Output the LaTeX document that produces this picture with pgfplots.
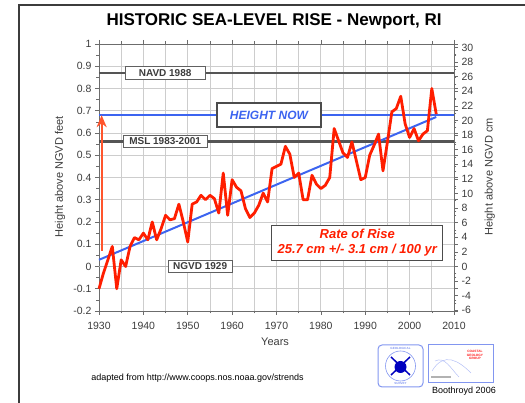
\documentclass[border=0pt]{standalone}
\usepackage{pgfplots}
\pgfplotsset{compat=1.18}
\usepackage{pgfplotstable}
\usepackage{fontspec}
\setmainfont{Liberation Sans}
\usetikzlibrary{arrows.meta}
\definecolor{redline}{RGB}{255,30,0}
\definecolor{blueline}{RGB}{60,100,240}
\definecolor{grayline}{RGB}{85,85,85}
\definecolor{gridc}{RGB}{205,205,205}
\definecolor{txt}{RGB}{60,60,60}
\definecolor{arrowc}{RGB}{255,85,45}
\definecolor{logoblue}{RGB}{130,150,240}
\definecolor{framec}{RGB}{60,60,60}

\pgfplotstableread{
year value
1930 -0.10
1931 -0.03
1932 0.03
1933 0.09
1934 -0.10
1935 0.03
1936 0.00
1937 0.09
1938 0.13
1939 0.12
1940 0.15
1941 0.12
1942 0.20
1943 0.12
1944 0.17
1945 0.23
1946 0.21
1947 0.215
1948 0.28
1949 0.20
1950 0.11
1951 0.28
1952 0.29
1953 0.32
1954 0.30
1955 0.32
1956 0.305
1957 0.24
1958 0.42
1959 0.23
1960 0.39
1961 0.356
1962 0.34
1963 0.26
1964 0.22
1965 0.24
1966 0.275
1967 0.33
1968 0.29
1969 0.44
1970 0.45
1971 0.46
1972 0.54
1973 0.505
1974 0.40
1975 0.42
1976 0.30
1977 0.30
1978 0.41
1979 0.37
1980 0.35
1981 0.365
1982 0.40
1983 0.62
1984 0.565
1985 0.51
1986 0.49
1987 0.56
1988 0.475
1989 0.39
1990 0.40
1991 0.50
1992 0.545
1993 0.595
1994 0.43
1995 0.56
1996 0.695
1997 0.71
1998 0.765
1999 0.64
2000 0.58
2001 0.62
2002 0.565
2003 0.595
2004 0.61
2005 0.80
2006 0.685
}\sealevel

\begin{document}
\begin{tikzpicture}
\pgfplotsset{
  base/.style={
    at={(0pt,0pt)}, anchor=south west,
    scale only axis, width=355pt, height=267pt,
    xmin=1930, xmax=2010,
    tick label style={font=\fontsize{10.5}{12}\selectfont, text=txt},
    /pgf/number format/assume math mode=true,
    /pgf/number format/1000 sep={},
    axis line style={gray!85!black, line width=0.8pt},
    tick style={gray!85!black, line width=0.6pt},
    tick align=outside,
    major tick length=4pt, minor tick length=2.5pt,
    label style={font=\fontsize{11}{13}\selectfont, text=txt},
  }
}
\begin{axis}[base,
  clip=false,
  xtick={1930,1940,...,2010},
  minor xtick={1935,1945,...,2005},
  xticklabel style={yshift=-4pt},
  xmajorgrids=true, xminorgrids=true, ymajorgrids=true,
  grid style={gridc, line width=0.8pt},
  minor grid style={gridc, line width=0.8pt},
  ymin=-0.2, ymax=1,
  ytick={-0.2,-0.1,0,0.1,0.2,0.3,0.4,0.5,0.6,0.7,0.8,0.9,1},
  yticklabels={-0.2,-0.1,0,0.1,0.2,0.3,0.4,0.5,0.6,0.7,0.8,0.9,1},
  minor y tick num=1,
  ylabel={Height above NGVD feet},
  ylabel style={at={(axis description cs:-0.110,0.502)}, anchor=center},
  xlabel={Years},
  xlabel style={at={(axis description cs:0.496,-0.115)}, anchor=center},
  title={HISTORIC SEA-LEVEL RISE - Newport, RI},
  title style={font=\bfseries\fontsize{17}{20}\selectfont, at={(axis description cs:0.493,1.064)}, anchor=center},
]
% reference datum lines
\addplot[gray!60, line width=1pt] coordinates {(1930,0) (2010,0)};
\addplot[grayline, line width=2.5pt] coordinates {(1930,0.87) (2010,0.87)};
\addplot[grayline, line width=2.5pt] coordinates {(1930,0.562) (2010,0.562)};
\addplot[blueline, line width=2pt] coordinates {(1930,0.68) (2010,0.68)};
% trend
\addplot[blueline, line width=2pt] coordinates {(1930,0.03) (2006,0.672)};
% data
\addplot[redline, line width=2.8pt, line join=round] table[x=year, y=value] {\sealevel};
% arrow
\addplot[arrowc, line width=2pt, -{Stealth[length=12pt,width=10pt]}] coordinates {(1930.6,0.07) (1930.6,0.68)};
% labels
\node[draw=gray!75!black, fill=white, line width=0.8pt, inner sep=0pt,
      minimum width=80pt, minimum height=13pt, text=txt,
      font=\bfseries\fontsize{10}{12}\selectfont] at (axis cs:1944.9,0.87) {NAVD 1988};
\node[draw=gray!75!black, fill=white, line width=0.8pt, inner sep=0pt,
      minimum width=84pt, minimum height=12pt, text=txt,
      font=\bfseries\fontsize{10}{12}\selectfont] at (axis cs:1944.9,0.562) {MSL 1983-2001};
\node[draw=gray!75!black, fill=white, line width=0.8pt, inner sep=0pt,
      minimum width=64pt, minimum height=12pt, text=txt,
      font=\bfseries\fontsize{10}{12}\selectfont] at (axis cs:1952.8,0) {NGVD 1929};
\node[draw=gray!60!black, fill=white, line width=1.2pt, inner sep=0pt,
      minimum width=104pt, minimum height=24pt, text=blueline,
      font=\bfseries\itshape\fontsize{12}{14}\selectfont] at (axis cs:1968.3,0.681) {HEIGHT NOW};
\node[draw=gray!60!black, fill=white, line width=1.2pt, inner sep=0pt,
      minimum width=171pt, minimum height=35pt, text=redline, align=center,
      font=\bfseries\itshape\fontsize{13}{15}\selectfont] at (axis cs:1988.2,0.106)
      {Rate of Rise\\25.7 cm +/- 3.1 cm / 100 yr};
\end{axis}
\begin{axis}[base,
  axis x line=none, axis y line*=right,
  ymin=-6.096, ymax=30.48,
  ytick={-6,-4,...,30},
  minor ytick={-5,-3,...,29},
  ylabel={Height above NGVD cm},
  ylabel style={at={(axis description cs:1.101,0.502)}, anchor=center},
]
\addplot[draw=none] coordinates {(1930,0)};
\end{axis}
% frame
\draw[framec, line width=2.5pt] (-80pt,-95pt) -- (-80pt,306pt) -- (430pt,306pt);
% footer
\node[text=black, font=\fontsize{9}{11}\selectfont] at (98.5pt,-67pt) {adapted from http://www.coops.nos.noaa.gov/strends};
\node[text=black, font=\fontsize{9}{11}\selectfont] at (365pt,-80pt) {Boothroyd 2006};
% logo 1
\draw[logoblue, line width=1pt, rounded corners=4pt] (279pt,-76pt) rectangle (324pt,-34pt);
\draw[logoblue, line width=0.6pt] (301.5pt,-55pt) circle (15pt);
\draw[blue!75!black, line width=1.5pt] (292pt,-46pt) -- (311pt,-64pt) (311pt,-46pt) -- (292pt,-64pt);
\fill[blue!75!black] (301.5pt,-56pt) circle (6pt);
\node[logoblue, font=\bfseries\fontsize{3}{3}\selectfont] at (301.5pt,-37.5pt) {GEOLOGICAL};
\node[logoblue, font=\bfseries\fontsize{3}{3}\selectfont] at (301.5pt,-72.5pt) {SURVEY};
% logo 2
\draw[logoblue, line width=1pt] (329pt,-72pt) rectangle (394pt,-34pt);
\draw[logoblue!60, line width=0.5pt] (333pt,-60pt) .. controls (345pt,-40pt) and (360pt,-50pt) .. (372pt,-62pt);
\draw[logoblue!60, line width=0.5pt] (336pt,-50pt) .. controls (346pt,-45pt) and (352pt,-58pt) .. (360pt,-66pt);
\node[red!90, align=center, font=\bfseries\fontsize{3.2}{3.6}\selectfont] at (376pt,-44pt) {COASTAL\\GEOLOGY\\GROUP};
\fill[gray!60] (332pt,-67.5pt) rectangle (352pt,-65.5pt);
\pgfresetboundingbox
\useasboundingbox (-99pt,-92pt) rectangle (426pt,311pt);
\end{tikzpicture}
\end{document}
